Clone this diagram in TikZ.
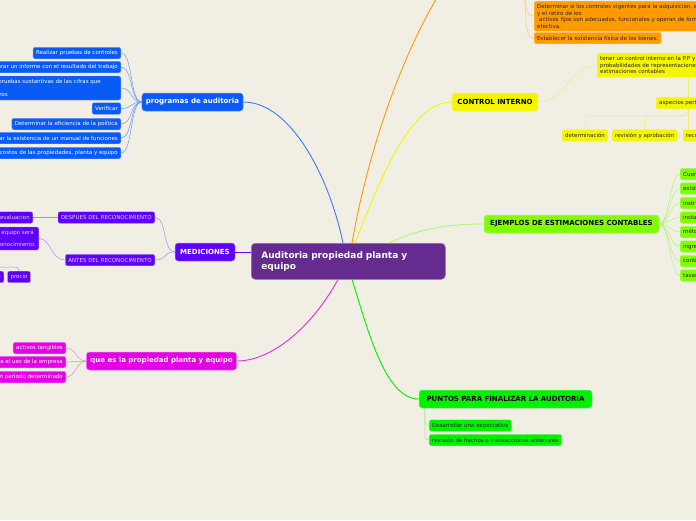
\documentclass[tikz,border=0pt]{standalone}
\usepackage{fontspec}
\setmainfont{DejaVu Sans}
\usetikzlibrary{calc}
\definecolor{bg}{HTML}{F1EFE3}
\definecolor{cpurple}{HTML}{652B8F}
\definecolor{cblue}{HTML}{0A5AF5}
\definecolor{lblue}{HTML}{6A98F8}
\definecolor{cviolet}{HTML}{5E00FA}
\definecolor{lviolet}{HTML}{A98CF2}
\definecolor{tviolet}{HTML}{E0D4FF}
\definecolor{cmag}{HTML}{E600E6}
\definecolor{lmag}{HTML}{F07EF0}
\definecolor{corange}{HTML}{FF9A00}
\definecolor{lorange}{HTML}{F8C67E}
\definecolor{cyellow}{HTML}{F5F500}
\definecolor{lyellow}{HTML}{EEEE70}
\definecolor{clime}{HTML}{80FF00}
\definecolor{llime}{HTML}{B4F27A}
\definecolor{cgreen}{HTML}{00F000}
\definecolor{lgreen}{HTML}{8EEA8E}
\begin{document}
\begin{tikzpicture}[x=1pt,y=-1pt,
  leaf/.style={rounded corners=2pt, inner xsep=3pt, inner ysep=1pt, minimum height=11.5pt,
    font=\fontsize{5.5}{6.5}\selectfont, line width=0.4pt},
  mainbox/.style={rounded corners=3pt, inner xsep=4pt, minimum height=18pt,
    font=\fontsize{7}{8.5}\selectfont\bfseries, line width=0.5pt},
  blueleaf/.style={leaf, fill=cblue, draw=lblue, text=white},
  violetleaf/.style={leaf, fill=cviolet, draw=lviolet, text=tviolet},
  magleaf/.style={leaf, fill=cmag, draw=lmag, text=white},
  orangeleaf/.style={leaf, fill=corange, draw=lorange, text=black!85},
  yellowleaf/.style={leaf, fill=cyellow, draw=lyellow, text=black!85},
  limeleaf/.style={leaf, fill=clime, draw=llime, text=black!85},
  greenleaf/.style={leaf, fill=cgreen, draw=lgreen, text=black!85},
  mainline/.style={line width=0.9pt},
  thinline/.style={line width=0.5pt}
]
\useasboundingbox (0,0) rectangle (696,520);
\fill[bg] (0,0) rectangle (696,520);

% central
\node[rounded corners=4pt, fill=cpurple, draw=cpurple!70!white, line width=0.6pt, text=white,
  anchor=north west, minimum width=194pt, minimum height=36pt, inner xsep=10pt,
  text width=174pt, align=left, font=\fontsize{9}{11}\selectfont\bfseries]
  (c) at (251,243) {Auditoria propiedad planta y\\equipo};

% ---------- programas de auditoria ----------
\node[mainbox, fill=cblue, draw=lblue, text=white, minimum width=101pt] (pa) at (192.5,102) {programas de auditoria};
\node[blueleaf, anchor=east] (b1) at (121,53) {Realizar pruebas de controles};
\node[blueleaf, anchor=east] (b2) at (121,67) {Elaborar un informe con el resultado del trabajo};
\node[blueleaf, anchor=east, align=left, minimum height=24pt] (b3) at (121,88)
  {Aplicar pruebas sustantivas de las cifras que\hspace*{17pt}\\[6.5pt]financieros};
\node[blueleaf, anchor=east] (b4) at (121,108.5) {Verificar};
\node[blueleaf, anchor=east] (b5) at (121,124) {Determinar la eficiencia de la política};
\node[blueleaf, anchor=east] (b6) at (121,138) {Verificar la existencia de un manual de funciones};
\node[blueleaf, anchor=east] (b7) at (121,153) {Determinar los costos de las propiedades, planta y equipo};
\foreach \n in {b1,b2,b3,b4,b5,b6,b7}
  \draw[thinline, lblue] (pa.west) .. controls +(-12,0) and +(12,0) .. (\n.east);
\draw[mainline, cblue!80!white] (pa.east) .. controls (292,102) and (330,180) .. ([xshift=92pt]c.north west);

% ---------- MEDICIONES ----------
\node[mainbox, fill=cviolet, draw=lviolet, text=white, minimum width=60pt] (m) at (205,252) {MEDICIONES};
\node[violetleaf, anchor=east] (d1) at (155,217.5) {DESPUES DEL RECONOCIMIENTO};
\node[violetleaf, anchor=east] (a1) at (155,260) {ANTES DEL RECONOCIMIENTO};
\node[violetleaf, anchor=east] (d2) at (33,217.5) {Modelo de revaluacion};
\node[violetleaf, anchor=east, align=right, minimum height=23pt] (a2) at (39,238.5)
  {Un elemento de propiedades, planta y equipo será\hspace*{2pt}\\[5.5pt]medido por su costo en el momento del reconocimiento.};
\node[violetleaf, anchor=north] (pr) at (19,271) {precio};
\node[violetleaf, anchor=north east] (co) at (4,271) {costo};
\coordinate (pp) at (-10,267);
\draw[thinline, lviolet] (m.west) .. controls +(-12,0) and +(12,0) .. (d1.east);
\draw[thinline, lviolet] (m.west) .. controls +(-12,0) and +(12,0) .. (a1.east);
\draw[thinline, lviolet] (d1.west) -- (d2.east);
\draw[thinline, lviolet] (a1.west) .. controls +(-14,0) and +(12,0) .. (a2.east);
\draw[thinline, lviolet] (pp) -- (13,267) .. controls (18,267) and (19,268) .. (pr.north);
\draw[mainline, cviolet] (m.east) -- (m.east -| c.west);

% ---------- que es la propiedad ----------
\node[mainbox, fill=cmag, draw=lmag, text=white, minimum width=149pt] (q) at (161.5,361) {que es la propiedad planta y equipo};
\node[magleaf, anchor=east] (q1) at (66,348) {activos tangibles};
\node[magleaf, anchor=east] (q2) at (66,362) {Bienes que se destinan para el uso de la empresa};
\node[magleaf, anchor=east] (q3) at (66,377) {Se utilizan durante un periodo determinado};
\foreach \n in {q1,q2,q3}
  \draw[thinline, lmag] (q.west) .. controls +(-10,0) and +(10,0) .. (\n.east);
\draw[mainline, cmag!85!white] ([xshift=87pt]c.south west) .. controls (310,330) and (270,361) .. (q.east);

% ---------- orange ----------
\node[orangeleaf, anchor=north west, align=left, minimum height=30pt, inner ysep=2pt,
  font=\fontsize{5.5}{6.7}\selectfont] (o1) at (534,1)
  {Determinar si los controles vigentes para la adquisición, el mantenimiento\\y el retiro de los\\\hspace*{2pt}activos fijos son adecuados, funcionales y operan de forma\\efectiva.};
\node[orangeleaf, anchor=west] (o2) at (534,38) {Establecer la existencia física de los bienes.};
\coordinate (op) at (524,-8);
\coordinate (ot) at (448,-20);
\draw[thinline, lorange] (op) .. controls (526,8) and (526,16) .. (o1.west);
\draw[thinline, lorange] (op) .. controls (527,25) and (525,38) .. (o2.west);
\draw[mainline, corange] ([xshift=101pt]c.north west) .. controls (370,140) and (408,40) .. (ot);

% ---------- CONTROL INTERNO ----------
\node[mainbox, fill=cyellow, draw=lyellow, text=black, minimum width=86pt] (ci) at (495,102) {CONTROL INTERNO};
\node[yellowleaf, anchor=north west, align=left, minimum height=24pt, inner ysep=2pt,
  font=\fontsize{5.5}{6.5}\selectfont] (y1) at (597,53)
  {tener un control interno en la P.P y reducir las\\probabilidades de representaciones erróneas en las\\estimaciones contables};
\node[yellowleaf, anchor=west] (asp) at (656,103) {aspectos pertinentes};
\node[yellowleaf, anchor=north west] (det) at (562,129.5) {determinación};
\node[yellowleaf, anchor=north west] (rev) at (612,129.5) {revisión y aprobación};
\node[yellowleaf, anchor=north west] (rec) at (683,129.5) {reconocimiento};
\draw[thinline, lyellow] (ci.east) .. controls +(28,0) and +(-28,0) .. (y1.west);
\draw[thinline, lyellow] ([xshift=91pt]y1.south west) -- ([xshift=32pt]asp.north west);
\draw[thinline, lyellow, rounded corners=4pt] ([xshift=32pt]asp.south west) -- ++(0,7) -| (det.north);
\draw[thinline, lyellow, rounded corners=4pt] ([xshift=32pt]asp.south west) -- ++(0,7) -| (rev.north);
\draw[thinline, lyellow] ([xshift=32pt]asp.south west) -- ([xshift=5pt]rec.north west);
\draw[mainline, cyellow] ([xshift=104pt]c.north west) .. controls (380,180) and (410,102) .. (ci.west);

% ---------- EJEMPLOS ----------
\node[mainbox, fill=clime, draw=llime, text=black, minimum width=175pt] (ej) at (571.5,224) {EJEMPLOS DE ESTIMACIONES CONTABLES};
\node[limeleaf, anchor=west] (e1) at (680,174) {Cuentas incobrables};
\node[limeleaf, anchor=west] (e2) at (680,188.5) {existencias obsoletas};
\node[limeleaf, anchor=west] (e3) at (680,203) {instrumentos financieros};
\node[limeleaf, anchor=west] (e4) at (680,217.5) {instalaciones};
\node[limeleaf, anchor=west] (e5) at (680,232) {métodos de depreciación};
\node[limeleaf, anchor=west] (e6) at (680,246.5) {ingresos diferidos};
\node[limeleaf, anchor=west] (e7) at (680,261) {contingencias};
\node[limeleaf, anchor=west] (e8) at (680,275.5) {tasas de depreciación};
\foreach \n in {e1,e2,e3,e4,e5,e6,e7,e8}
  \draw[thinline, llime] (ej.east) .. controls +(10,0) and +(-10,0) .. (\n.west);
\draw[mainline, llime] ([xshift=138pt]c.north west) .. controls (420,228) and (450,224) .. (ej.west);

% ---------- PUNTOS ----------
\node[mainbox, fill=cgreen, draw=lgreen, text=black, minimum width=173pt] (pu) at (505.5,399) {PUNTOS PARA FINALIZAR LA AUDITORIA};
\node[greenleaf, anchor=west] (p1) at (429,425.5) {Desarrollar una expectativa};
\node[greenleaf, anchor=west] (p2) at (429,440) {revisión de hechos o transacciones anteriores};
\draw[thinline, lgreen, rounded corners=4pt] ([xshift=6pt]pu.south west) |- (p1.west);
\draw[thinline, lgreen, rounded corners=4pt] ([xshift=6pt]pu.south west) |- (p2.west);
\draw[mainline, cgreen] ([xshift=101pt]c.south west) .. controls (368,330) and (385,399) .. (pu.west);
\end{tikzpicture}
\end{document}
